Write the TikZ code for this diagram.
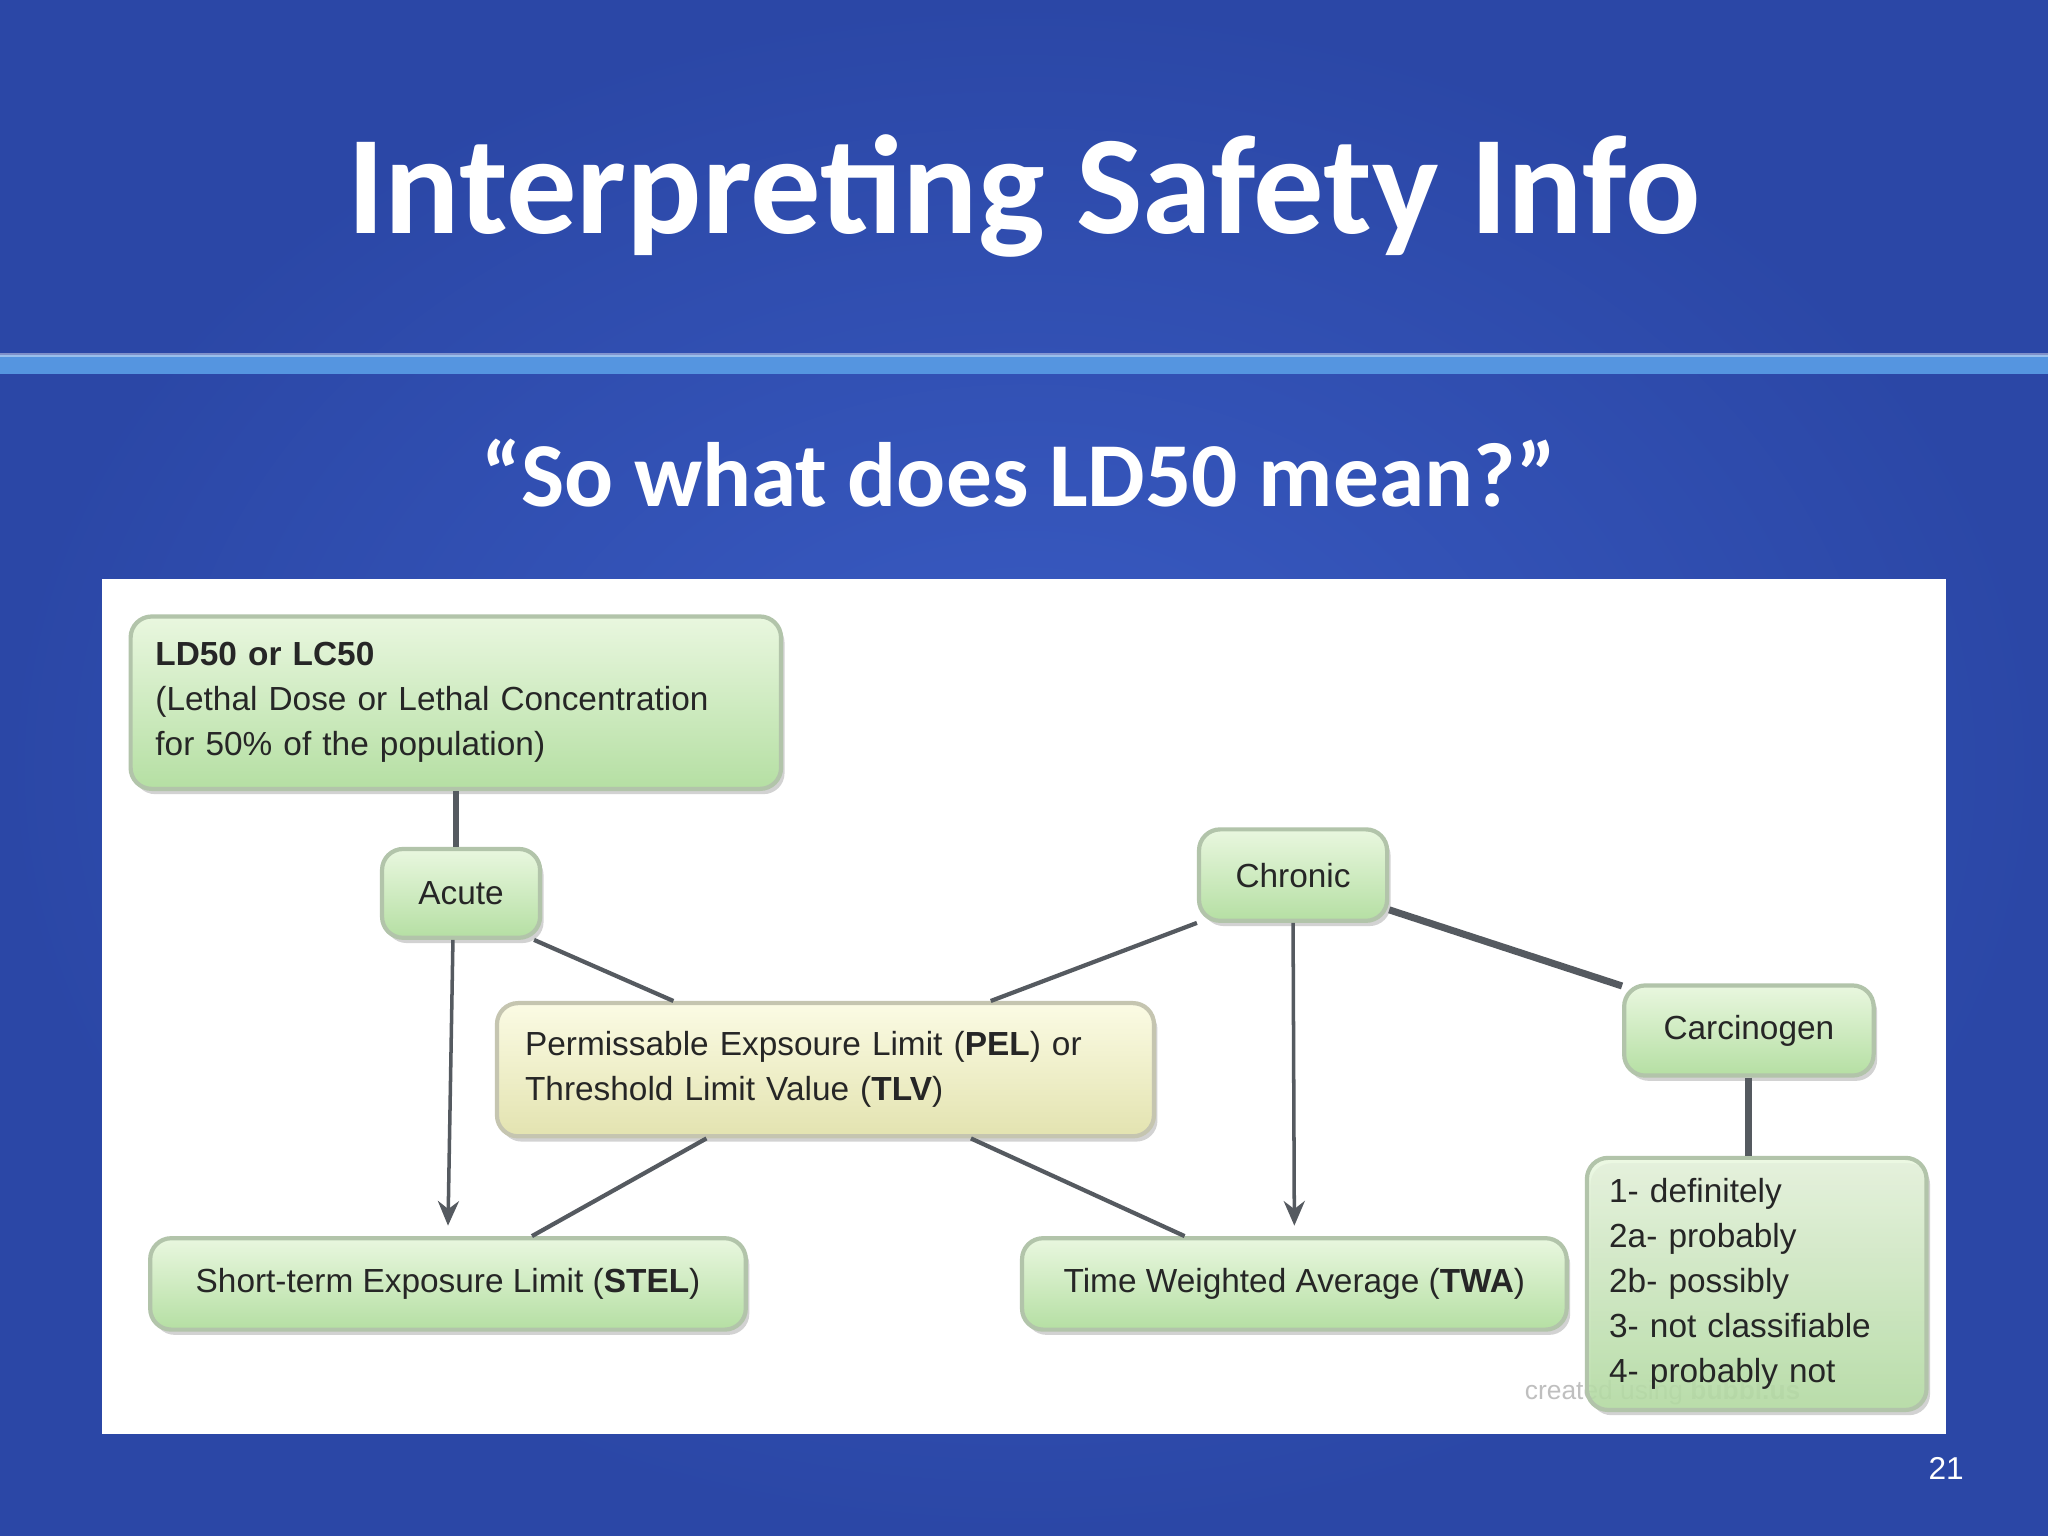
\documentclass[tikz,border=0pt]{standalone}
\usepackage{fontspec}
\setmainfont{Liberation Sans}
\newfontfamily\titlefont{Carlito}
\usetikzlibrary{calc,shadows,arrows.meta}
\definecolor{bgblue}{HTML}{2B47A6}
\definecolor{bgmid}{HTML}{3A5CC4}
\definecolor{bandblue}{HTML}{5595E0}
\definecolor{gtop}{HTML}{E9F7DF}
\definecolor{gbot}{HTML}{B5DFA3}
\definecolor{ytop}{HTML}{FBFBE4}
\definecolor{ybot}{HTML}{E3E3B0}
\definecolor{edgec}{HTML}{555A60}
\tikzset{
 box/.style={draw=gbot!70!black!60, line width=1.2pt, rounded corners=6pt, top color=gtop, bottom color=gbot,
   drop shadow={shadow xshift=1pt,shadow yshift=-1.5pt,opacity=0.35}, inner sep=0pt, font=\fontsize{9.5}{12.8}\selectfont, text=black!85},
 ybox/.style={box, top color=ytop, bottom color=ybot, draw=ybot!70!black!60},
 conn/.style={draw=edgec, line width=1.6pt},
 arr/.style={draw=edgec, line width=1pt, -{Stealth[length=7pt,width=6pt]}},
}
\begin{document}
\begin{tikzpicture}[x=0.013061cm,y=-0.013061cm]
\useasboundingbox (0,0) rectangle (1568,1176);
\shade[inner color=bgmid, outer color=bgblue] (0,0) rectangle (1568,1176);
\fill[bandblue] (0,272) rectangle (1568,286);
\fill[white,opacity=0.4] (0,270) rectangle (1568,273);
\node[text=white,font=\titlefont\bfseries\fontsize{40}{44}\selectfont] (title) at (784,150) {Interpreting Safety Info};
\node[text=white,font=\titlefont\bfseries\fontsize{26}{30}\selectfont] (sub) at (780,362) {“So what does LD50 mean?”};
\fill[white] (78,443) rectangle (1490,1098);
\node[text=black!25,font=\fontsize{7.5}{8}\selectfont,anchor=west] (wm) at (1158,1066) {created using \textbf{bubbl.us}};
% nodes
\node[box,minimum width=498*0.013061cm,minimum height=132*0.013061cm,align=left,text width=460*0.013061cm] (ld) at (349,538)
 {\textbf{LD50 or LC50}\\(Lethal Dose or Lethal Concentration\\for 50\% of the population)};
\node[box,minimum width=121*0.013061cm,minimum height=68*0.013061cm] (acute) at (353,684) {Acute};
\node[box,minimum width=144*0.013061cm,minimum height=70*0.013061cm] (chronic) at (990,670) {Chronic};
\node[box,minimum width=191*0.013061cm,minimum height=69*0.013061cm] (carc) at (1339,789) {Carcinogen};
\node[ybox,minimum width=503*0.013061cm,minimum height=102*0.013061cm,align=left,text width=460*0.013061cm] (pel) at (632,819)
 {Permissable Expsoure Limit (\textbf{PEL}) or\\Threshold Limit Value (\textbf{TLV})};
\node[box,minimum width=456*0.013061cm,minimum height=70*0.013061cm] (stel) at (343,983) {Short-term Exposure Limit (\textbf{STEL})};
\node[box,minimum width=417*0.013061cm,minimum height=70*0.013061cm] (twa) at (991,983) {Time Weighted Average (\textbf{TWA})};
\node[box,minimum width=260*0.013061cm,minimum height=193*0.013061cm,align=left,text width=226*0.013061cm,fill opacity=0.85,text opacity=1] (list) at (1345,983)
 {1- definitely\\2a- probably\\2b- possibly\\3- not classifiable\\4- probably not};
% connectors
\draw[conn] (ld.south) -- (acute.north -| ld.south);
\draw[arr] ($(acute.south west)!0.45!(acute.south east)$) -- ($(stel.north)+(0,-8)$);
\draw[conn,line width=1.2pt] ($(acute.south west)!0.95!(acute.south east)$) -- ($(pel.north west)!0.27!(pel.north east)$);
\draw[conn,line width=1.2pt] (chronic.south west) -- ($(pel.north west)!0.75!(pel.north east)$);
\draw[arr] (chronic.south) -- ($(twa.north)+(0,-8)$);
\draw[conn,line width=2pt] ($(chronic.south east)+(0,-10)$) -- ($(carc.north west)+(0,2)$);
\draw[conn,line width=2pt] (carc.south) -- (list.north -| carc.south);
\draw[conn,line width=1.2pt] ($(pel.south west)!0.32!(pel.south east)$) -- ($(stel.north west)!0.64!(stel.north east)$);
\draw[conn,line width=1.2pt] ($(pel.south west)!0.72!(pel.south east)$) -- ($(twa.north west)!0.3!(twa.north east)$);
\node[text=white,font=\fontsize{9}{10}\selectfont] (pg) at (1490,1124) {21};
\end{tikzpicture}
\end{document}
